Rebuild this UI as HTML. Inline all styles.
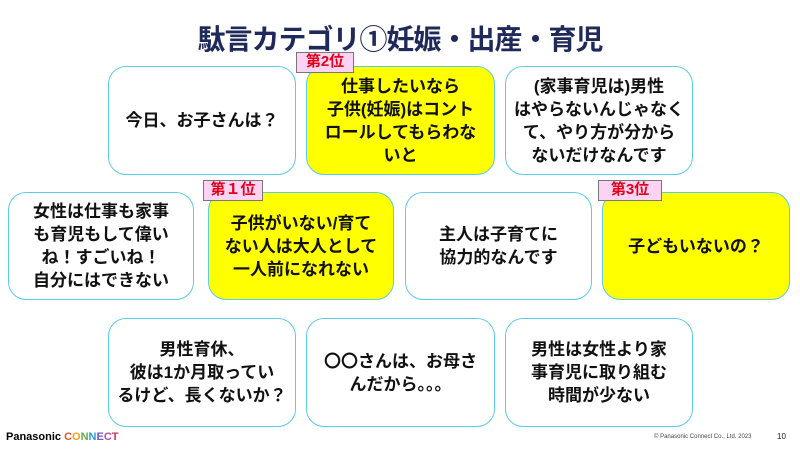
<!DOCTYPE html><html><head><meta charset="utf-8"><style>
body{margin:0;width:800px;height:450px;background:#fff;position:relative;overflow:hidden;font-family:"Liberation Sans","Noto Sans CJK JP",sans-serif}
.t{position:absolute;left:0;width:800px;top:18px;text-align:center;font-size:28px;font-weight:bold;color:#1f2a5a;letter-spacing:-1px}
.b{position:absolute;border:1.5px solid #5ccbe8;border-radius:18px;background:#fff;display:flex;align-items:center;justify-content:center;text-align:center;font-size:17px;font-weight:bold;line-height:23px;color:#111;box-sizing:border-box;padding:0 6px}
.y{background:#ffff00}
.l{position:absolute;background:#fcd3f2;border:1.5px solid #777;color:#e0001b;font-weight:bold;font-size:15px;line-height:18px;text-align:center;box-sizing:border-box}
</style></head><body>
<div class="t">駄言カテゴリ①妊娠・出産・育児</div>
<div class="b" style="left:108px;top:66px;width:188px;height:109px">今日、お子さんは？</div>
<div class="b y" style="left:306px;top:66px;width:189px;height:109px">仕事したいなら<br>子供(妊娠)はコント<br>ロールしてもらわな<br>いと</div>
<div class="b" style="left:505px;top:66px;width:188px;height:109px">(家事育児は)男性<br>はやらないんじゃなく<br>て、やり方が分から<br>ないだけなんです</div>
<div class="b" style="left:8px;top:192px;width:186px;height:108px">女性は仕事も家事<br>も育児もして偉い<br>ね！すごいね！<br>自分にはできない</div>
<div class="b y" style="left:208px;top:192px;width:186px;height:108px">子供がいない/育て<br>ない人は大人として<br>一人前になれない</div>
<div class="b" style="left:405px;top:192px;width:187px;height:108px">主人は子育てに<br>協力的なんです</div>
<div class="b y" style="left:602px;top:192px;width:188px;height:108px">子どもいないの？</div>
<div class="b" style="left:108px;top:318px;width:188px;height:109px">男性育休、<br>彼は1か月取ってい<br>るけど、長くないか？</div>
<div class="b" style="left:306px;top:318px;width:189px;height:109px">〇〇さんは、お母さ<br>んだから。。。</div>
<div class="b" style="left:505px;top:318px;width:188px;height:109px">男性は女性より家<br>事育児に取り組む<br>時間が少ない</div>
<div class="l" style="left:296px;top:52px;width:58px;height:21px">第2位</div>
<div class="l" style="left:203px;top:180px;width:60px;height:21px">第１位</div>
<div class="l" style="left:598px;top:180px;width:64px;height:21px">第3位</div>
<div style="position:absolute;left:6px;top:431px;font-size:11px;font-weight:bold;color:#000">Panasonic <span style="color:#e8542c">C</span><span style="color:#f0a020">O</span><span style="color:#5bb04a">N</span><span style="color:#2a9ad8">N</span><span style="color:#6a5bc8">E</span><span style="color:#c04aa0">C</span><span style="color:#d03060">T</span></div>
<div style="position:absolute;left:654px;top:434px;font-size:6px;color:#444">© Panasonic Connect Co., Ltd. 2023</div>
<div style="position:absolute;left:777px;top:432px;font-size:8px;color:#222">10</div>
</body></html>
